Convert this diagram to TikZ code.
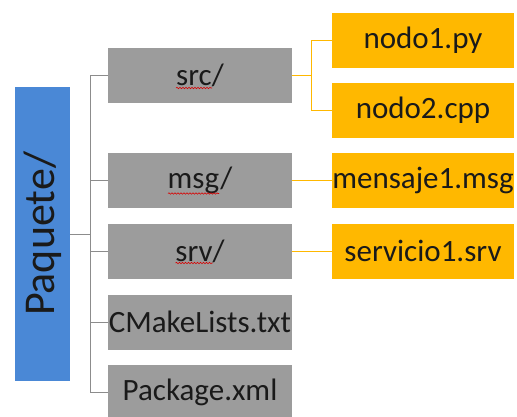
\documentclass[tikz,border=0pt]{standalone}
\usepackage{fontspec}
\setmainfont{Carlito}
\usetikzlibrary{decorations.pathmorphing}
\definecolor{azul}{HTML}{4A88D6}
\definecolor{gris}{HTML}{9C9C9C}
\definecolor{naranja}{HTML}{FFB800}
\definecolor{lineagris}{HTML}{8C8C8C}
\definecolor{texto}{HTML}{1A1A1A}

\begin{document}
\begin{tikzpicture}[x=1pt,y=-1pt,caja/.style={shape=rectangle,inner sep=0pt,minimum height=55pt,text=texto,font=\fontsize{31}{33}\selectfont},cajaG/.style={caja,fill=gris,minimum width=184pt},cajaN/.style={caja,fill=naranja,minimum width=182pt},rama/.style={draw=lineagris,line width=0.8pt},ramaN/.style={draw=naranja,line width=0.9pt},corrector/.style={draw=red!85!black,line width=0.6pt,decorate,decoration={snake,amplitude=0.7pt,segment length=3pt}}]
\useasboundingbox (0,0) rectangle (517,416);
\def\xg{200};
\def\xn{423};

\node[caja,fill=azul,minimum width=55pt,minimum height=294pt,font=\fontsize{44}{46}\selectfont] (paq) at (42.5,234) {\rotatebox{90}{Paquete/}};

\node[cajaG] (src) at (\xg,75.5) {src/};
\node[cajaG] (msg) at (\xg,180.5) {msg/};
\node[cajaG] (srv) at (\xg,251) {srv/};
\node[cajaG] (cmake) at (\xg,322) {CMakeLists.txt};
\node[cajaG] (pkg) at (\xg,392) {Package.xml};

\node[cajaN] (nodo1) at (\xn,40.5) {nodo1.py};
\node[cajaN] (nodo2) at (\xn,110) {nodo2.cpp};
\node[cajaN] (mensaje) at (\xn,180.5) {mensaje1.msg};
\node[cajaN] (servicio) at (\xn,251) {servicio1.srv};

\foreach \n in {src,msg,srv,cmake,pkg}
  \draw[rama] (paq.east) -- ++(20,0) |- (\n.west);

\draw[ramaN] (src.east) -- ++(19,0) |- (nodo1.west);
\draw[ramaN] (src.east) -- ++(19,0) |- (nodo2.west);
\draw[ramaN] (msg.east) -- (mensaje.west);
\draw[ramaN] (srv.east) -- (servicio.west);

% subrayado del corrector
\draw[corrector] ([shift={(-24,12.5)}]src.center) -- ++(36,0);
\draw[corrector] ([shift={(-32,13)}]msg.center) -- ++(51,0);
\draw[corrector] ([shift={(-24.5,12)}]srv.center) -- ++(37,0);
\end{tikzpicture}
\end{document}
